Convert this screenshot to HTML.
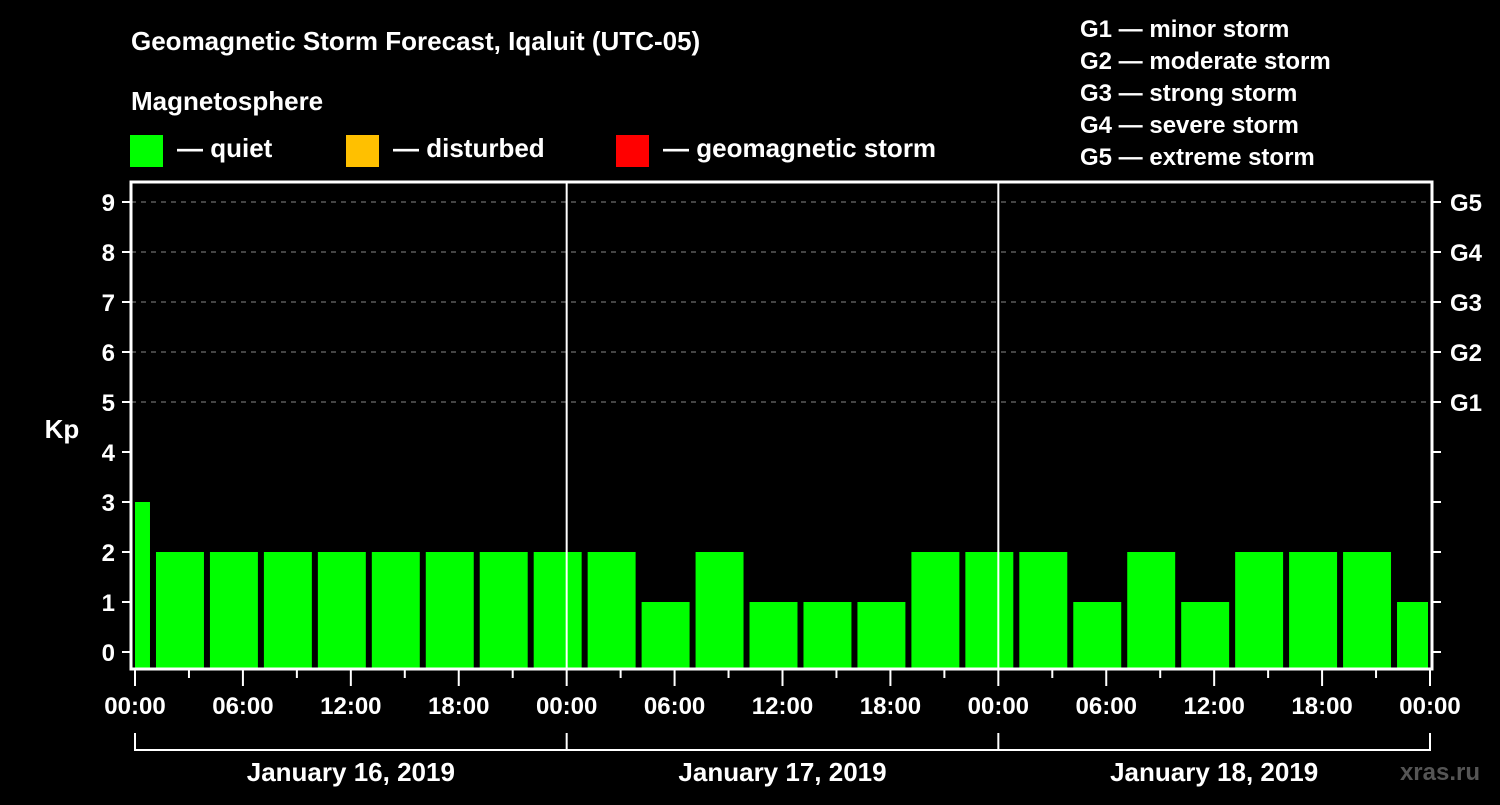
<!DOCTYPE html>
<html><head><meta charset="utf-8"><style>
body{margin:0;background:#000;}
svg text{font-family:"Liberation Sans",sans-serif;font-weight:bold;fill:#fff;}
</style></head><body>
<svg width="1500" height="800" viewBox="0 0 1500 800" xmlns="http://www.w3.org/2000/svg">
<rect width="1500" height="800" fill="#000"/>
<text x="131" y="50" font-size="26">Geomagnetic Storm Forecast, Iqaluit (UTC-05)</text>
<text x="131" y="110" font-size="26">Magnetosphere</text>
<rect x="130" y="135" width="33" height="32" fill="#00ff00"/>
<text x="177" y="157" font-size="26">— quiet</text>
<rect x="346" y="135" width="33" height="32" fill="#ffc000"/>
<text x="393" y="157" font-size="26">— disturbed</text>
<rect x="616" y="135" width="33" height="32" fill="#ff0000"/>
<text x="663" y="157" font-size="26">— geomagnetic storm</text>
<g font-size="24">
<text x="1080" y="37" font-size="24">G1 — minor storm</text>
<text x="1080" y="69" font-size="24">G2 — moderate storm</text>
<text x="1080" y="101" font-size="24">G3 — strong storm</text>
<text x="1080" y="133" font-size="24">G4 — severe storm</text>
<text x="1080" y="165" font-size="24">G5 — extreme storm</text>
</g>
<text x="62" y="438" font-size="26" text-anchor="middle">Kp</text>
<text x="1480" y="780" font-size="24" text-anchor="end" fill="#555" style="fill:#555">xras.ru</text>
<g id="chart"></g>
</svg>
<script>
const kpValues=[3,2,2,2,2,2,2,2,2,2,1,2,1,1,1,2,2,2,1,2,1,2,2,2,1];
const slotStartHours=[-2,1,4,7,10,13,16,19,22,25,28,31,34,37,40,43,46,49,52,55,58,61,64,67,70];
const kpTicks=[0,1,2,3,4,5,6,7,8,9];
const gLabels=["G1","G2","G3","G4","G5"];
const gLevels=[5,6,7,8,9];
const timeLabels=["00:00","06:00","12:00","18:00","00:00","06:00","12:00","18:00","00:00","06:00","12:00","18:00","00:00"];
const dayLabels=["January 16, 2019","January 17, 2019","January 18, 2019"];
const NS="http://www.w3.org/2000/svg";
const g=document.getElementById('chart');
const x=h=>135+h*(1295/72);
const y=v=>652-v*50;
const L=131,R=1432,T=182,B=669;
function mk(t,a,parent){const e=document.createElementNS(NS,t);for(const k in a)e.setAttribute(k,a[k]);(parent||g).appendChild(e);return e;}
// grid
gLevels.forEach((v,i)=>{
 const l=mk('line',{x1:L,x2:R,y1:y(v),y2:y(v),stroke:'#888','stroke-width':1,'stroke-dasharray':'5,5'});
 
 
 const t=mk('text',{x:1450,y:y(v)+9,'font-size':24});t.textContent=gLabels[i];
 
 
});
// bars
kpValues.forEach((v,i)=>{
 const s=slotStartHours[i];
 let x0=x(s)+3,x1=x(s+3)-3;
 x0=Math.max(x0,135);x1=Math.min(x1,1428);
 const col=v>=5?'#ff0000':(v>=4?'#ffc000':'#00ff00');
 const r=mk('rect',{x:x0,y:y(v),width:x1-x0,height:B-y(v),fill:col});
 
 
});
// day separators
[24,48].forEach(h=>{const l=mk('line',{x1:x(h),x2:x(h),y1:T,y2:B,stroke:'#fff','stroke-width':2});
 
 });
// frame
const f=mk('rect',{x:L,y:T,width:R-L,height:B-T,fill:'none',stroke:'#fff','stroke-width':3});


// y ticks
kpTicks.forEach(v=>{
 mk('line',{x1:122,x2:L,y1:y(v),y2:y(v),stroke:'#fff','stroke-width':2});
 mk('line',{x1:R,x2:1441,y1:y(v),y2:y(v),stroke:'#fff','stroke-width':2});
 const t=mk('text',{x:115,y:y(v)+9,'font-size':24,'text-anchor':'end'});t.textContent=v;
 
 
});
// x ticks
for(let h=0;h<=72;h+=3){
 const major=h%6===0;
 mk('line',{x1:x(h),x2:x(h),y1:B,y2:major?686:678,stroke:'#fff','stroke-width':2});
}
timeLabels.forEach((s,i)=>{
 const t=mk('text',{x:x(i*6),y:714,'font-size':24,'text-anchor':'middle'});t.textContent=s;
 
 
});
// day bracket
mk('line',{x1:x(0),x2:x(72),y1:750,y2:750,stroke:'#fff','stroke-width':2});
[0,24,48,72].forEach(h=>mk('line',{x1:x(h),x2:x(h),y1:733,y2:751,stroke:'#fff','stroke-width':2}));
dayLabels.forEach((s,i)=>{
 const t=mk('text',{x:x(i*24+12),y:781,'font-size':26,'text-anchor':'middle'});t.textContent=s;
 
 
});
</script>
</body></html>
